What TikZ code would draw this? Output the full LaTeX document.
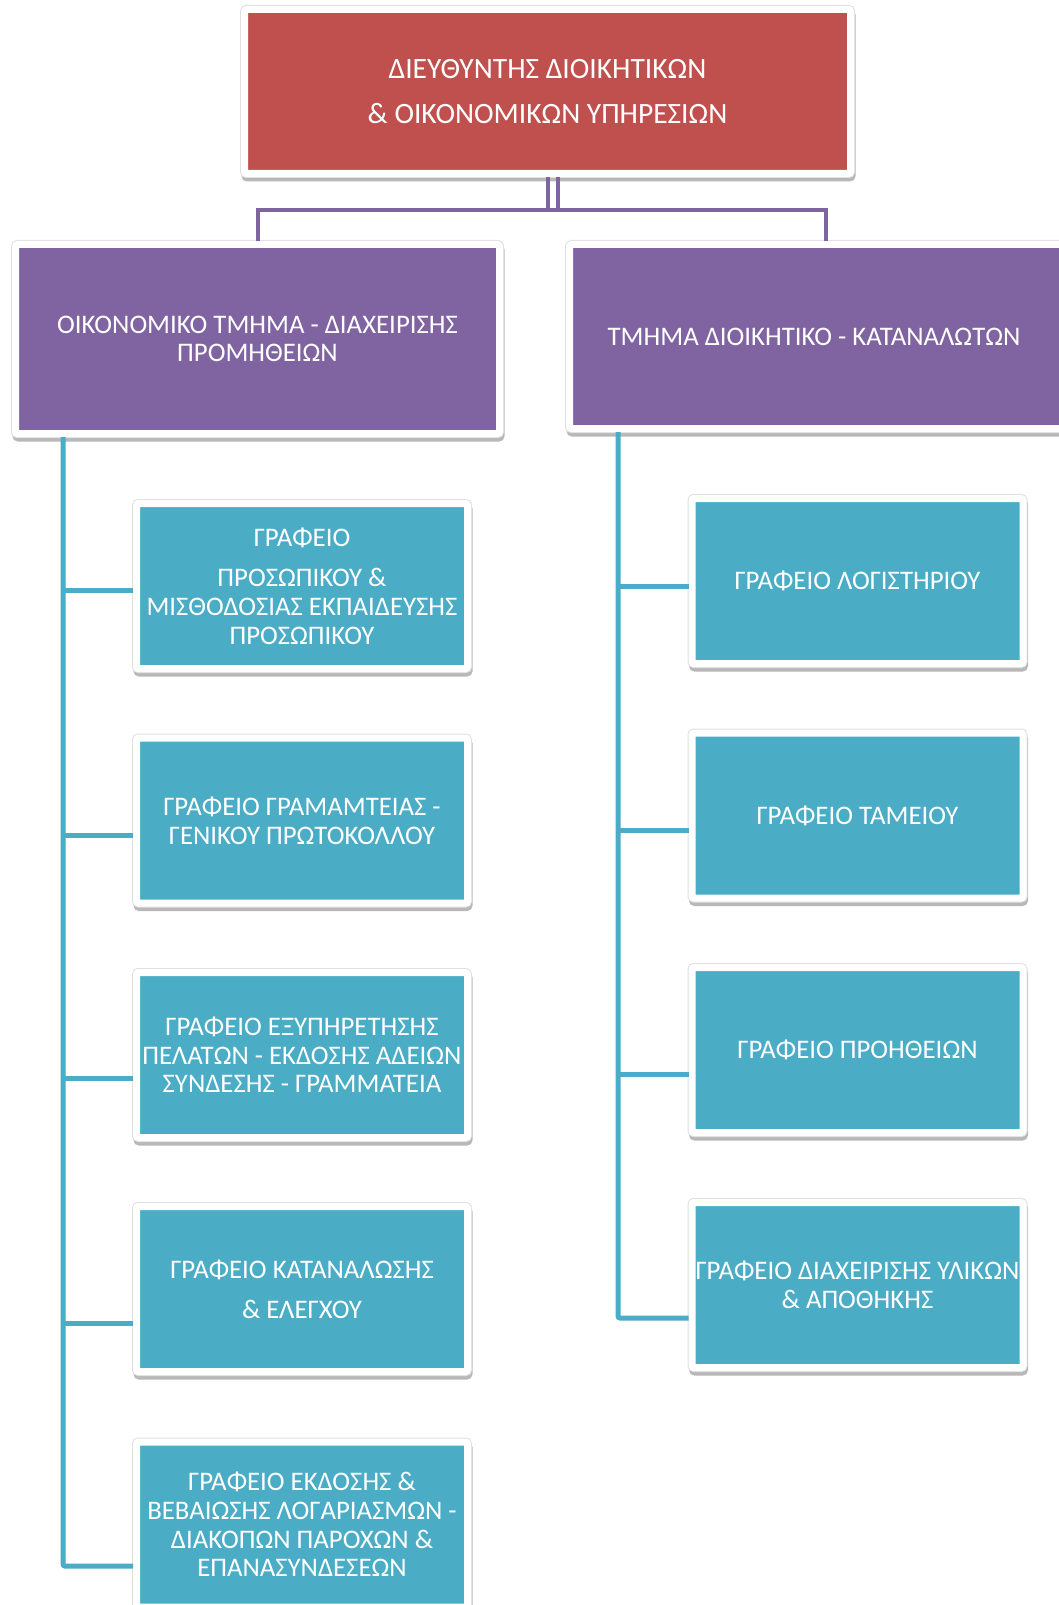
\documentclass[tikz,border=0pt]{standalone}
\usepackage{fontspec}
\setmainfont{Carlito}
\definecolor{redbox}{HTML}{C0504D}
\definecolor{purpbox}{HTML}{8064A2}
\definecolor{tealbox}{HTML}{4BACC6}
\begin{document}
\begin{tikzpicture}[x=1pt,y=-1pt,
  box/.style={draw=white, line width=7pt, rounded corners=2pt, text=white, align=center,
    inner sep=0pt, font=\fontsize{26.8}{28.7}\selectfont,
    preaction={draw=black!28, fill=black!28, line width=8pt, transform canvas={xshift=1pt, yshift=-4pt}},
    preaction={draw=black!12, line width=9pt}},
  dept/.style={box, fill=purpbox},
  office/.style={box, fill=tealbox, minimum width=331pt, minimum height=165pt},
  pline/.style={draw=purpbox, line width=4pt},
  cline/.style={draw=tealbox, line width=5pt, rounded corners=2pt},
]
\useasboundingbox (0,0) rectangle (1059,1605);
\clip (0,0) rectangle (1059,1605);
\fill[white] (0,0) rectangle (1059,1605);

\node[box, fill=redbox, minimum width=606pt, minimum height=164pt,
  font=\fontsize{29.5}{28.7}\selectfont] (top) at (547.5,91.5)
  {ΔΙΕΥΘΥΝΤΗΣ ΔΙΟΙΚΗΤΙΚΩΝ\\[16pt]\& ΟΙΚΟΝΟΜΙΚΩΝ ΥΠΗΡΕΣΙΩΝ};

\node[dept, minimum width=484pt, minimum height=189pt] (ld) at (257.5,339)
  {ΟΙΚΟΝΟΜΙΚΟ ΤΜΗΜΑ - ΔΙΑΧΕΙΡΙΣΗΣ\\ΠΡΟΜΗΘΕΙΩΝ};
\node[dept, minimum width=513pt, minimum height=184pt] (rd) at (826,336.5)
  {\hspace*{-24pt}ΤΜΗΜΑ ΔΙΟΙΚΗΤΙΚΟ - ΚΑΤΑΝΑΛΩΤΩΝ};

\node[office] (lc1) at (302,586)
  {ΓΡΑΦΕΙΟ\\[12pt]ΠΡΟΣΩΠΙΚΟΥ \&\\ΜΙΣΘΟΔΟΣΙΑΣ ΕΚΠΑΙΔΕΥΣΗΣ\\ΠΡΟΣΩΠΙΚΟΥ};
\node[office] (lc2) at (302,820.5)
  {ΓΡΑΦΕΙΟ ΓΡΑΜΑΜΤΕΙΑΣ -\\ΓΕΝΙΚΟΥ ΠΡΩΤΟΚΟΛΛΟΥ};
\node[office] (lc3) at (302,1055)
  {ΓΡΑΦΕΙΟ ΕΞΥΠΗΡΕΤΗΣΗΣ\\ΠΕΛΑΤΩΝ - ΕΚΔΟΣΗΣ ΑΔΕΙΩΝ\\ΣΥΝΔΕΣΗΣ - ΓΡΑΜΜΑΤΕΙΑ};
\node[office] (lc4) at (302,1289)
  {ΓΡΑΦΕΙΟ ΚΑΤΑΝΑΛΩΣΗΣ\\[11pt]\& ΕΛΕΓΧΟΥ};
\node[office] (lc5) at (302,1524.5)
  {ΓΡΑΦΕΙΟ ΕΚΔΟΣΗΣ \&\\ΒΕΒΑΙΩΣΗΣ ΛΟΓΑΡΙΑΣΜΩΝ -\\ΔΙΑΚΟΠΩΝ ΠΑΡΟΧΩΝ \&\\ΕΠΑΝΑΣΥΝΔΕΣΕΩΝ};

\node[office] (rc1) at (857.5,581) {ΓΡΑΦΕΙΟ ΛΟΓΙΣΤΗΡΙΟΥ};
\node[office] (rc2) at (857.5,815.5) {ΓΡΑΦΕΙΟ ΤΑΜΕΙΟΥ};
\node[office] (rc3) at (857.5,1050) {ΓΡΑΦΕΙΟ ΠΡΟΗΘΕΙΩΝ};
\node[office] (rc4) at (857.5,1285) {ΓΡΑΦΕΙΟ ΔΙΑΧΕΙΡΙΣΗΣ ΥΛΙΚΩΝ\\\& ΑΠΟΘΗΚΗΣ};

% purple connectors
\coordinate (tl) at (548,210);
\coordinate (tr) at (558,210);
\draw[pline] (top.south -| tl) -- (tl) -| (ld.north);
\draw[pline] (top.south -| tr) -- (tr) -| (rd.north);
\draw[pline] (tl) -- (tr);

% teal connectors, left
\coordinate (lb1) at (63,590);
\coordinate (lb2) at (63,835);
\coordinate (lb3) at (63,1078);
\coordinate (lb4) at (63,1323);
\coordinate (lb5) at (63,1566);
\draw[cline] (ld.south -| lb1) -- (lb5) -- (lb5 -| lc5.west);
\draw[cline] (lb1) -- (lb1 -| lc1.west);
\draw[cline] (lb2) -- (lb2 -| lc2.west);
\draw[cline] (lb3) -- (lb3 -| lc3.west);
\draw[cline] (lb4) -- (lb4 -| lc4.west);

% teal connectors, right
\coordinate (rb1) at (618,586);
\coordinate (rb2) at (618,830);
\coordinate (rb3) at (618,1074);
\coordinate (rb4) at (618,1318);
\draw[cline] (rd.south -| rb1) -- (rb4) -- (rb4 -| rc4.west);
\draw[cline] (rb1) -- (rb1 -| rc1.west);
\draw[cline] (rb2) -- (rb2 -| rc2.west);
\draw[cline] (rb3) -- (rb3 -| rc3.west);
\end{tikzpicture}
\end{document}
